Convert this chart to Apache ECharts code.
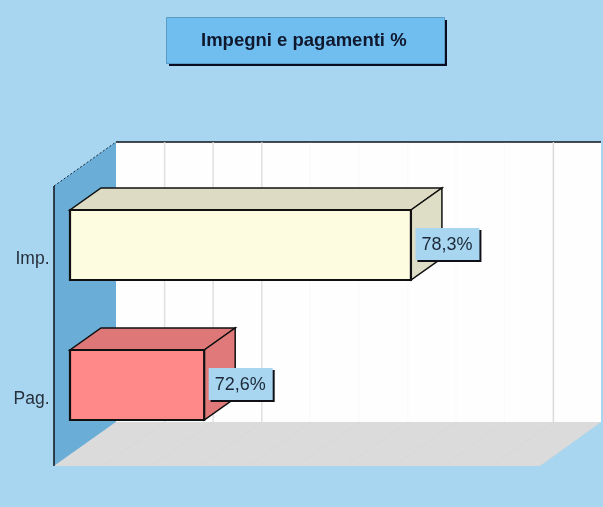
<!DOCTYPE html>
<html><head><meta charset="utf-8">
<style>html,body{margin:0;padding:0;background:#A8D6F0}#c{width:603px;height:507px}</style>
<script src="https://cdn.jsdelivr.net/npm/echarts@6/dist/echarts.min.js"></script>
</head><body><div id="c"></div>
<script>
const titleText = 'Impegni e pagamenti %';
const categories = ['Imp.', 'Pag.'];
const values = [78.3, 72.6];
const valueLabels = ['78,3%', '72,6%'];
const axisMin = 68.9;
const axisMax = 82.3;
const gridTicks = [68.9, 70.24, 71.58, 72.92, 74.26, 75.6, 76.94, 78.28, 79.62, 80.96, 82.3];
const tickOpacity = [0, 0.85, 0.85, 0.85, 0.12, 0.08, 0.08, 0.08, 0.08, 0.95, 0];
const frontColors = ['#FDFBE0', '#FF8888'];
const topColors = ['#DDDBC3', '#DE7878'];
const sideColors = ['#DEDEC6', '#E07A7A'];

// depth of the bar box, and of the walls relative to the bar front plane
const BD = [31, -22], WB = [46, -32], WF = [-16, 12];

function poly(points, fill, stroke, lw) {
  return { type: 'polygon', shape: { points }, style: { fill, stroke: stroke || null, lineWidth: lw || 0 } };
}
function seg(a, b, stroke, lw, dash, op) {
  return { type: 'line', shape: { x1: a[0], y1: a[1], x2: b[0], y2: b[1] },
    style: { stroke, lineWidth: lw, lineDash: dash || null, opacity: op == null ? 1 : op } };
}

const chart = echarts.init(document.getElementById('c'), null, { renderer: 'canvas' });
chart.setOption({
  animation: false,
  backgroundColor: '#A8D6F0',
  graphic: [
    { type: 'rect', z: 0, shape: { x: 169, y: 20, width: 278, height: 46 }, style: { fill: '#0A0A20' } },
    { type: 'rect', z: 1, shape: { x: 166.5, y: 17.5, width: 278, height: 46 },
      style: { fill: '#70BEF0', stroke: '#5A9CC4', lineWidth: 1 } }
  ],
  title: {
    text: titleText, left: 201, top: 31, padding: 0, z: 10,
    textStyle: { fontFamily: 'Liberation Sans', fontSize: 18.5, fontWeight: 'bold', color: '#10182E' }
  },
  grid: { left: 70, top: 174, width: 486, height: 280 },
  xAxis: { type: 'value', min: axisMin, max: axisMax, show: false, splitLine: { show: false } },
  yAxis: {
    type: 'category', inverse: true, data: categories,
    axisLine: { show: false }, axisTick: { show: false },
    axisLabel: { margin: 20.5, verticalAlign: 'top', lineHeight: 31, fontFamily: 'Liberation Sans', fontSize: 17.5, color: '#26303C' }
  },
  series: [
    { // walls and floor
      type: 'custom', silent: true, clip: false, z: 1, data: [[axisMin]],
      renderItem(params) {
        const c = params.coordSys;
        const L = c.x, R = c.x + c.width, T = c.y, B = c.y + c.height;
        const fl = [L + WF[0], B + WF[1]], fr = [R + WF[0], B + WF[1]];
        const bl = [L + WB[0], B + WB[1]], br = [R + WB[0] - 1, B + WB[1]];
        const tb = [L + WB[0], T + WB[1]], tr = [R + WB[0] - 1, T + WB[1]];
        const tf = [L + WF[0], T + WF[1]];
        return { type: 'group', children: [
          poly([tb, tr, br, bl], '#FEFEFE'),
          poly([tf, tb, bl, fl], '#6AADD6'),
          poly([bl, br, fr, fl], '#DBDBDB'),
          seg(tb, tr, '#101018', 1.5),
          seg(tf, tb, '#1A2A3A', 1, [2, 2]),
          seg(tf, fl, '#101018', 1.5)
        ] };
      }
    },
    { // grid lines on back wall and floor
      type: 'custom', silent: true, clip: false, z: 2, data: gridTicks.map((v, i) => [v, tickOpacity[i]]),
      encode: { x: 0 },
      renderItem(params, api) {
        const c = params.coordSys;
        const x = api.coord([api.value(0), categories[0]])[0];
        const op = api.value(1);
        const B = c.y + c.height, T = c.y;
        return { type: 'group', children: [
          seg([x + WB[0], T + WB[1]], [x + WB[0], B + WB[1]], '#DADADA', 1.5, null, op),
          seg([x + WB[0], B + WB[1]], [x + WF[0], B + WF[1]], '#C8C8C8', 1, null, 0.2)
        ] };
      }
    },
    { // 3D bars
      type: 'custom', silent: true, clip: false, z: 3,
      data: values.map((v, i) => [v, i]),
      encode: { x: 0, y: 1 },
      renderItem(params, api) {
        const i = params.dataIndex;
        const p = api.coord([api.value(0), api.value(1)]);
        const x0 = api.coord([axisMin, api.value(1)])[0];
        const h = api.size([0, 1])[1] * 0.5;
        const a = [x0, p[1] - h / 2 + 1], b = [p[0], p[1] - h / 2 + 1];
        const d = [p[0], p[1] + h / 2 + 1], e = [x0, p[1] + h / 2 + 1];
        const off = q => [q[0] + BD[0], q[1] + BD[1]];
        const tx = p[0] + 4.5, ty = p[1] - 16;
        return { type: 'group', children: [
          poly([a, b, off(b), off(a)], topColors[i], '#101010', 1.5),
          poly([b, off(b), off(d), d], sideColors[i], '#101010', 1.5),
          poly([a, b, d, e], frontColors[i], '#101010', 2.2),
          { type: 'rect', shape: { x: tx + 2, y: ty + 2, width: 64, height: 32 }, style: { fill: '#101018' } },
          { type: 'rect', shape: { x: tx, y: ty, width: 64, height: 32 }, style: { fill: '#A8D6F0' } },
          { type: 'text', x: tx + 31.5, y: ty + 17.5, style: { text: valueLabels[i], align: 'center', verticalAlign: 'middle',
            fontFamily: 'Liberation Sans', fontSize: 18, fill: '#1C2838' } }
        ] };
      }
    }
  ]
});
</script></body></html>
